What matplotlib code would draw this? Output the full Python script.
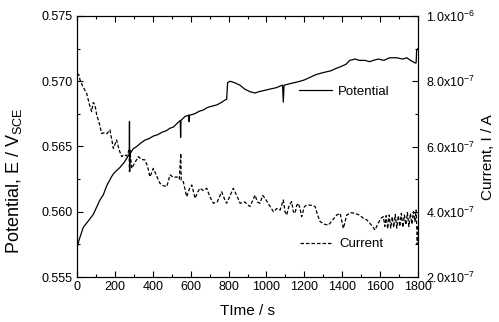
import numpy as np
import matplotlib
matplotlib.use("Agg")
import matplotlib.pyplot as plt
from matplotlib.ticker import MultipleLocator, FixedLocator, FormatStrFormatter

plt.rcParams['font.family'] = ['Liberation Sans', 'DejaVu Sans']
plt.rcParams['mathtext.fontset'] = 'custom'
plt.rcParams['mathtext.rm'] = 'Liberation Sans'
plt.rcParams['mathtext.it'] = 'Liberation Sans:italic'

# === DATA ===
pot_t = [0, 10, 33, 60, 86, 121, 139, 157, 183, 192, 205, 227, 250, 271, 276, 277, 278, 279,
         295, 315, 340, 360, 380, 403, 425, 450, 470, 491, 510, 530, 545, 547, 549,
         570, 590, 592, 594, 620, 645, 667, 690, 715, 740, 765, 785, 790, 795, 808,
         830, 860, 885, 913, 940, 960, 990, 1019, 1050, 1085, 1089, 1093, 1120, 1150,
         1177, 1200, 1230, 1260, 1283, 1310, 1340, 1370, 1389, 1420, 1440, 1468, 1490,
         1520, 1545, 1564, 1590, 1620, 1650, 1688, 1720, 1741, 1760, 1785, 1790, 1793, 1800]
pot_E = [0.5572, 0.5578, 0.5588, 0.5593, 0.5598, 0.5609, 0.5613, 0.5620, 0.5627, 0.5629,
         0.5631, 0.5634, 0.5638, 0.5643, 0.5643, 0.5669, 0.5631, 0.5644,
         0.5648, 0.5650, 0.5653, 0.5655, 0.5656, 0.5658, 0.5659, 0.5661, 0.5662, 0.5664,
         0.5665, 0.5668, 0.5670, 0.5657, 0.5670,
         0.5673, 0.5674, 0.5669, 0.5674, 0.5675, 0.5677, 0.5678, 0.5680, 0.5681, 0.5682,
         0.5684, 0.5686, 0.5686, 0.5699, 0.5700,
         0.5699, 0.5697, 0.5694, 0.5692, 0.5691, 0.5692, 0.5693, 0.5694, 0.5695, 0.5697,
         0.5684, 0.5697, 0.5698, 0.5699,
         0.5700, 0.5701, 0.5703, 0.5705, 0.5706, 0.5707, 0.5708, 0.5710, 0.5711, 0.5713,
         0.5716, 0.5717, 0.5716,
         0.5716, 0.5715, 0.5716, 0.5717, 0.5716, 0.5718, 0.5718, 0.5717, 0.5718, 0.5716,
         0.5714, 0.5714, 0.5724, 0.5725]

cur_t = [0, 10, 16, 30, 51, 65, 77, 86, 95, 104, 118, 130, 145, 157, 174, 192, 209, 222,
         236, 250, 262, 275, 277, 279, 289, 305, 324, 340, 359, 372, 385, 403, 420, 438,
         455, 474, 491, 510, 526, 540, 548, 550, 560, 579, 593, 606, 623, 637, 649, 667,
         685, 702, 720, 740, 764, 778, 790, 805, 825, 843, 861, 885, 913, 928, 940, 952,
         966, 980, 993, 1015, 1037, 1055, 1072, 1089, 1098, 1107, 1120, 1133, 1142, 1151,
         1160, 1168, 1177, 1186, 1200, 1213, 1235, 1257, 1270, 1283, 1305, 1327, 1350,
         1371, 1389, 1398, 1406, 1415, 1424, 1445, 1468, 1490, 1512, 1530, 1550, 1573,
         1590, 1605, 1617, 1625, 1632, 1640, 1648, 1656, 1664, 1672, 1680, 1688, 1696,
         1704, 1712, 1720, 1728, 1736, 1744, 1752, 1760, 1768, 1776, 1784, 1790, 1793,
         1796, 1800]
cur_I = [8.24, 8.20, 8.04, 7.85, 7.63, 7.30, 7.07, 7.35, 7.27, 6.97, 6.70, 6.40, 6.42,
         6.39, 6.51, 5.94, 6.20, 5.90,
         5.69, 5.75, 5.71, 5.89, 5.23, 5.89, 5.33, 5.50, 5.69, 5.60, 5.59, 5.40, 5.07,
         5.33, 5.10, 4.87,
         4.80, 4.77, 5.13, 5.05, 5.07, 5.00, 5.79, 4.97, 4.95, 4.46, 4.70, 4.82, 4.41,
         4.60, 4.72, 4.65,
         4.72, 4.45, 4.26, 4.30, 4.61, 4.40, 4.26, 4.45, 4.72, 4.50, 4.26, 4.30, 4.16,
         4.35, 4.51, 4.30,
         4.26, 4.50, 4.41, 4.20, 4.00, 4.10, 4.05, 4.36, 4.00, 3.90, 4.20, 4.31, 4.00,
         3.95,
         4.20, 4.26, 4.10, 3.85, 4.15, 4.21, 4.20, 4.16, 3.90, 3.70, 3.62, 3.59, 3.75,
         3.90, 3.95, 3.70, 3.49, 3.70, 3.90, 3.97, 3.95, 3.90, 3.80, 3.75, 3.62, 3.44,
         3.65, 3.80, 3.85, 3.55, 3.88, 3.48, 3.90, 3.50, 3.85, 3.52, 3.92, 3.50, 3.88,
         3.55, 3.95, 3.52, 3.90, 3.60, 3.97, 3.55, 3.95, 3.62, 4.00, 3.70, 4.05, 3.60,
         3.00, 3.55]
cur_I = [v * 1e-7 for v in cur_I]

right_ticks = [2e-7, 4e-7, 6e-7, 8e-7, 1e-6]
right_labels = [r'2.0x10$^{-7}$', r'4.0x10$^{-7}$', r'6.0x10$^{-7}$',
                r'8.0x10$^{-7}$', r'1.0x10$^{-6}$']

# === FIGURE ===
fig = plt.figure(figsize=(4.99, 3.22), dpi=100)
ax = fig.add_axes([77/499, 45/322, 341/499, 261/322])
ax2 = ax.twinx()

l_pot, = ax.plot(pot_t, pot_E, color='black', lw=0.9, label='Potential')
l_cur, = ax2.plot(cur_t, cur_I, color='black', lw=0.9, linestyle=(0, (2.8, 1.6)),
                  label='Current')

ax.set_xlim(0, 1800)
ax.set_ylim(0.555, 0.575)
ax2.set_ylim(2e-7, 1e-6)

ax.xaxis.set_major_locator(MultipleLocator(200))
ax.xaxis.set_minor_locator(MultipleLocator(100))
ax.yaxis.set_major_locator(MultipleLocator(0.005))
ax.yaxis.set_minor_locator(MultipleLocator(0.0025))
ax.yaxis.set_major_formatter(FormatStrFormatter('%.3f'))
ax2.yaxis.set_major_locator(FixedLocator(right_ticks))
ax2.set_yticklabels(right_labels)
ax2.yaxis.set_minor_locator(MultipleLocator(1e-7))

ax.tick_params(which='both', direction='in', top=True, right=False, labelsize=9, pad=3)
ax.tick_params(which='major', length=4, width=0.8)
ax.tick_params(which='minor', length=2, width=0.8)
ax2.tick_params(which='both', direction='in', labelsize=9, pad=5.5)
ax2.tick_params(which='major', length=4, width=0.8)
ax2.tick_params(which='minor', length=2, width=0.8)

ax.set_xlabel('TIme / s', fontsize=11)
ax.set_ylabel(r'Potential, E / V$_{\mathrm{SCE}}$', fontsize=13)
ax2.set_ylabel('Current, I / A', fontsize=11)
ax.xaxis.set_label_coords(0.5, -0.105)
ax.yaxis.set_label_coords(-0.155, 0.37)
ax2.yaxis.set_label_coords(1.185, 0.46)

ax.legend(handles=[l_pot], loc='center left', bbox_to_anchor=(0.651, 0.709),
          frameon=False, fontsize=9.5, handlelength=2.5, handletextpad=0.45,
          borderpad=0, borderaxespad=0)
ax2.legend(handles=[l_cur], loc='center left', bbox_to_anchor=(0.654, 0.126),
           frameon=False, fontsize=9.5, handlelength=2.5, handletextpad=0.45,
           borderpad=0, borderaxespad=0)

fig.savefig('out.png', dpi=100)
